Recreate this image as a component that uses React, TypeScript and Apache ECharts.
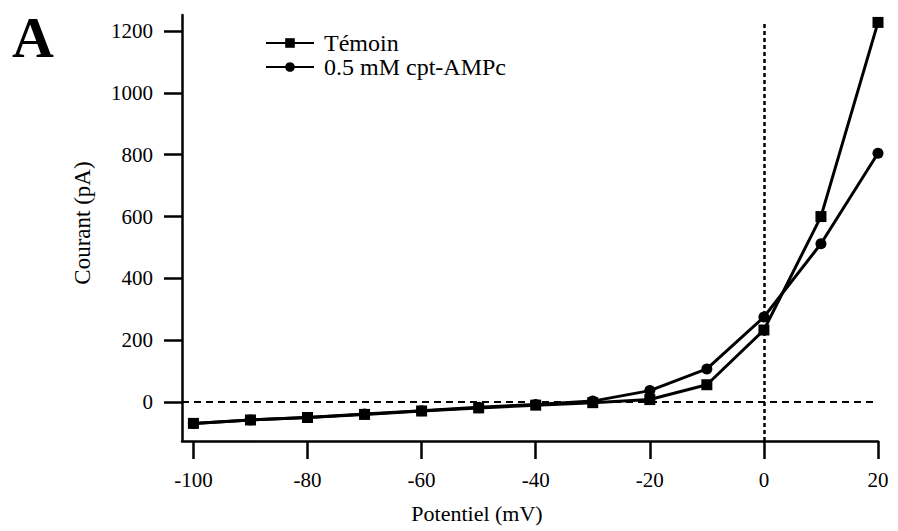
import React, { useEffect, useRef } from "react";
import * as echarts from "echarts";

const potentials = [-100, -90, -80, -70, -60, -50, -40, -30, -20, -10, 0, 10, 20];
const temoin = [-69, -58, -50, -40, -29, -19, -10, -2, 8, 56, 233, 600, 1228];
const cptAMPc = [-69, -58, -50, -39, -28, -17, -8, 3, 37, 107, 275, 512, 805];
const xTicks = [-100, -80, -60, -40, -20, 0, 20];
const yTicks = [0, 200, 400, 600, 800, 1000, 1200];
const seriesNames = ["Témoin", "0.5 mM cpt-AMPc"];

const FONT = "Liberation Serif, Times New Roman, serif";

export default function App() {
  const ref = useRef<HTMLDivElement>(null);
  useEffect(() => {
    if (!ref.current) return;
    const chart = echarts.init(ref.current, undefined, { renderer: "svg" });
    const pairs = (ys: number[]) => potentials.map((x, i) => [x, ys[i]]);
    chart.setOption({
      animation: false,
      backgroundColor: "#fff",
      textStyle: { fontFamily: FONT, color: "#000" },
      grid: { left: 182, right: 20, top: 15, bottom: 90, containLabel: false },
      legend: {
        orient: "vertical",
        left: 265,
        top: 31,
        padding: 0,
        itemWidth: 48,
        itemHeight: 12,
        itemGap: 0,
        textStyle: { fontFamily: FONT, fontSize: 24, color: "#000", padding: [0, 0, 0, 5] },
        data: seriesNames,
      },
      xAxis: {
        type: "value",
        min: -102,
        max: 20,
        splitLine: { show: false },
        axisLine: { show: true, onZero: false, lineStyle: { color: "#000", width: 2.5 } },
        axisTick: { show: true, length: 18, inside: false, customValues: xTicks, lineStyle: { color: "#000", width: 2.5 } },
        axisLabel: {
          customValues: xTicks,
          margin: 28,
          fontFamily: FONT,
          fontSize: 21,
          color: "#000",
          formatter: (v: number) => String(v),
        },
      },
      yAxis: {
        type: "value",
        min: -126,
        max: 1252,
        splitLine: { show: false },
        axisLine: { show: true, onZero: false, lineStyle: { color: "#000", width: 2.5 } },
        axisTick: { show: true, length: 18, inside: false, customValues: yTicks, lineStyle: { color: "#000", width: 2.5 } },
        axisLabel: {
          customValues: yTicks,
          margin: 29,
          fontFamily: FONT,
          fontSize: 21,
          color: "#000",
          formatter: (v: number) => String(v),
        },
      },
      series: [
        {
          name: seriesNames[0],
          type: "line",
          data: pairs(temoin),
          symbol: "rect",
          symbolSize: 11,
          lineStyle: { color: "#000", width: 3 },
          itemStyle: { color: "#000" },
          z: 3,
          markLine: {
            silent: true,
            symbol: "none",
            label: { show: false },
            data: [
              [
                { coord: [-102, 0], lineStyle: { color: "#000", width: 2, type: [7, 5] } },
                { coord: [20, 0] },
              ],
              [
                { coord: [0, -126], lineStyle: { color: "#000", width: 2.5, type: [4, 3] } },
                { coord: [0, 1232] },
              ],
            ],
          },
        },
        {
          name: seriesNames[1],
          type: "line",
          data: pairs(cptAMPc),
          symbol: "circle",
          symbolSize: 11,
          lineStyle: { color: "#000", width: 3 },
          itemStyle: { color: "#000" },
          z: 3,
        },
      ],
      graphic: [
        {
          type: "text",
          left: 12,
          top: 8,
          style: { text: "A", fontFamily: FONT, fontSize: 58, fontWeight: "bold", fill: "#000" },
        },
        {
          type: "text",
          x: 477,
          y: 513,
          style: {
            text: "Potentiel (mV)",
            fontFamily: FONT,
            fontSize: 22,
            fill: "#000",
            align: "center",
            verticalAlign: "middle",
          },
        },
        {
          type: "text",
          x: 82,
          y: 223,
          rotation: Math.PI / 2,
          style: {
            text: "Courant (pA)",
            fontFamily: FONT,
            fontSize: 23,
            fill: "#000",
            align: "center",
            verticalAlign: "middle",
          },
        },
      ],
    });
    return () => chart.dispose();
  }, []);
  return <div ref={ref} style={{ width: 898, height: 531, position: "absolute", left: 0, top: 0 }} />;
}
